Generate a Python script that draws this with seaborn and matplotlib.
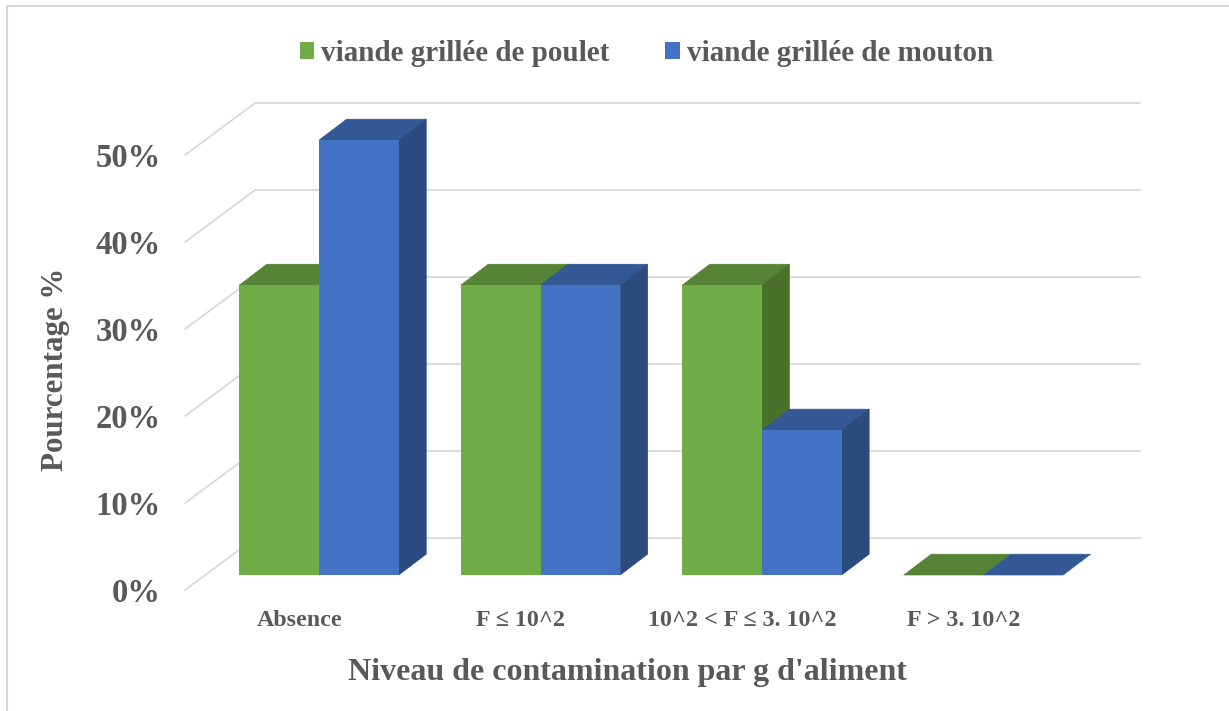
import pandas as pd
import matplotlib
matplotlib.use("Agg")
import matplotlib.pyplot as plt
from matplotlib.patches import Polygon, Rectangle
import seaborn as sns

# values (percent)
niveaux = ["Absence", "F ≤ 10^2", "10^2 < F ≤ 3. 10^2", "F > 3. 10^2"]
poulet = [33.33, 33.33, 33.33, 0.0]
mouton = [50.0, 33.33, 16.67, 0.0]
series = ["viande grillée de poulet", "viande grillée de mouton"]
yticks = [0, 10, 20, 30, 40, 50]

front_cols = ["#70AD47", "#4472C4"]
top_cols = ["#568336", "#335894"]
side_cols = ["#4A712A", "#2B4A7E"]
grey = "#595959"
grid_col = "#D9D9D9"

df = pd.DataFrame({
    "niveau": niveaux * 2,
    "pct": poulet + mouton,
    "viande": [series[0]] * len(niveaux) + [series[1]] * len(niveaux),
})

sns.set_style("white")
plt.rcParams["font.family"] = ["Liberation Serif", "DejaVu Serif"]
plt.rcParams["font.weight"] = "bold"

W, H = 1229, 711
fig = plt.figure(figsize=(W / 100, H / 100), dpi=100)
ax = fig.add_axes([180 / W, 111 / H, 970 / W, 510 / H])
ax.set_facecolor("none")

sns.barplot(data=df, x="niveau", y="pct", hue="viande", palette=front_cols,
            width=0.72, saturation=1, linewidth=0, errorbar=None, ax=ax)

# fake 3D: depth offset of the bars (category units, percent units)
DX, DY = 0.124, 2.4
for i, cont in enumerate(ax.containers):
    base = 10 * (i + 1)
    for bar in cont:
        x0, y0 = bar.get_x(), bar.get_y()
        w, h = bar.get_width(), bar.get_height()
        bar.set_zorder(base + 2)
        top = Polygon([(x0, y0 + h), (x0 + w, y0 + h), (x0 + w + DX, y0 + h + DY),
                       (x0 + DX, y0 + h + DY)], closed=True, facecolor=top_cols[i],
                      edgecolor=top_cols[i], lw=0.4, zorder=base + 1)
        ax.add_patch(top)
        if h > 0:
            side = Polygon([(x0 + w, y0), (x0 + w + DX, y0 + DY), (x0 + w + DX, y0 + h + DY),
                            (x0 + w, y0 + h)], closed=True, facecolor=side_cols[i],
                           edgecolor=side_cols[i], lw=0.4, zorder=base + 1)
            ax.add_patch(side)

# back wall gridlines with the diagonal on the left side wall
FX, FY = -0.605, -1.72   # front plane offset
BX, BY = -0.289, 4.25    # back wall offset
for v in yticks:
    ax.plot([FX, BX, 3.707], [v + FY, v + BY, v + BY], color=grid_col, lw=1.3, zorder=0)

ax.set_xlim(-0.628, 3.752)
ax.set_ylim(-2.87, 55.75)
ax.set_yticks([v + FY for v in yticks], [f"{v}%" for v in yticks])
ax.set_xticks([i - 0.09 for i in range(len(niveaux))], niveaux)
ax.tick_params(axis="y", length=0, pad=14, labelsize=23.5, labelcolor=grey)
ax.tick_params(axis="x", length=0, pad=7, labelsize=17.3, labelcolor=grey)
for s in ax.spines.values():
    s.set_visible(False)

ax.set_xlabel("Niveau de contamination par g d'aliment", fontsize=23, color=grey, weight="bold")
ax.xaxis.set_label_coords(0.461, -0.113)
ax.set_ylabel("Pourcentage %", fontsize=22.3, color=grey, weight="bold")
ax.yaxis.set_label_coords(-0.113, 0.453)

handles, labels = ax.get_legend_handles_labels()
ax.legend_.remove()
fig.legend(handles, labels, loc="center", bbox_to_anchor=(0.526, 0.925), ncol=2,
           frameon=False, handlelength=0.5, handleheight=0.5, handletextpad=0.25,
           columnspacing=1.9, prop={"size": 21, "weight": "bold"}, labelcolor=grey)

# chart-area border (only top and left edges visible in the crop)
fig.patches.append(Rectangle((7 / W, -0.1), 1.2, 1.1 - 6 / H, transform=fig.transFigure,
                             fill=False, edgecolor=grid_col, lw=1.5))

fig.savefig("out.png", dpi=100)
